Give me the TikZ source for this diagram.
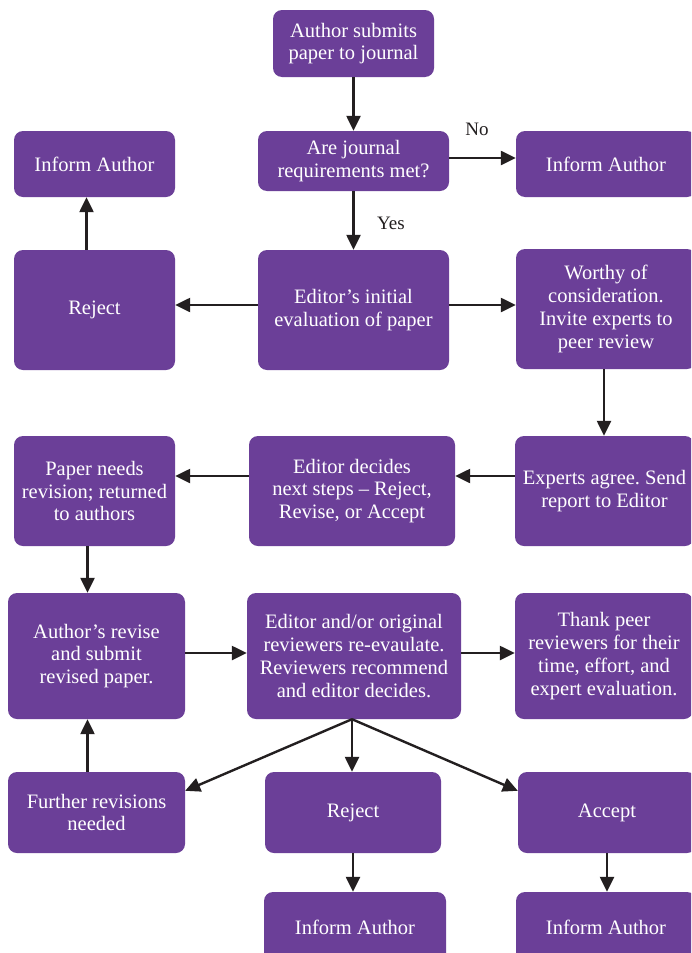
\documentclass[tikz,border=0pt]{standalone}
\usepackage{fontspec}
\setmainfont{Liberation Serif}
\usetikzlibrary{arrows.meta}
\definecolor{pp}{HTML}{6B3F98}
\definecolor{ink}{HTML}{231F20}
\frenchspacing
\begin{document}
\begin{tikzpicture}[x=1pt,y=-1pt,
  box/.style={fill=pp, rounded corners=9pt, text=white, align=center, inner sep=0pt,
    font=\fontsize{20.5}{22.8}\selectfont\frenchspacing},
  arr/.style={draw=ink, line width=2.4pt, -{Triangle[length=15pt,width=14pt]}},
  lbl/.style={text=ink, font=\fontsize{19}{22}\selectfont}]
\useasboundingbox (0,0) rectangle (691,953);
\clip (0,0) rectangle (691,953);
\fill[white] (0,0) rectangle (691,953);
% nodes
\node[box, minimum width=161pt, minimum height=67pt] (sub) at (353.5,43.5) {Author submits\\paper to journal};
\node[box, minimum width=191pt, minimum height=60pt] (req) at (353.5,161) {Are journal\\requirements met?};
\node[box, minimum width=161pt, minimum height=66pt] (infL) at (94.5,164) {Inform Author};
\node[box, minimum width=180pt, minimum height=66pt] (infR) at (606,164) {Inform Author};
\node[box, minimum width=161pt, minimum height=120pt] (rej1) at (94.5,310) {Reject};
\node[box, minimum width=191pt, minimum height=120pt] (ed1) at (353.5,310) {Editor's initial\\evaluation of paper};
\node[box, minimum width=180pt, minimum height=120pt] (wor) at (606,309) {Worthy of\\consideration.\\Invite experts to\\peer review};
\node[box, minimum width=161pt, minimum height=110pt] (pap) at (94.5,491) {Paper needs\\revision; returned\\to authors};
\node[box, minimum width=206pt, minimum height=110pt] (ed2) at (352,491) {Editor decides\\next steps – Reject,\\Revise, or Accept};
\node[box, minimum width=179pt, minimum height=110pt] (exp) at (604.5,491) {Experts agree. Send\\report to Editor};
\node[box, minimum width=177pt, minimum height=126pt] (aut) at (96.5,656) {Author's revise\\and submit\\revised paper.};
\node[box, minimum width=214pt, minimum height=126pt] (ed3) at (354,656) {Editor and/or original\\reviewers re-evaulate.\\Reviewers recommend\\and editor decides.};
\node[box, minimum width=178pt, minimum height=126pt] (thk) at (604,656) {Thank peer\\reviewers for their\\time, effort, and\\expert evaluation.};
\node[box, minimum width=177pt, minimum height=81pt] (fur) at (96.5,812.5) {Further revisions\\needed};
\node[box, minimum width=176pt, minimum height=81pt] (rej2) at (353,812.5) {Reject};
\node[box, minimum width=178pt, minimum height=81pt] (acc) at (607,812.5) {Accept};
\node[box, minimum width=182pt, minimum height=70pt] (infB) at (355,927) {Inform Author};
\node[box, minimum width=180pt, minimum height=70pt] (infBR) at (606,927) {Inform Author};
% labels
\node[lbl] (no) at (477,129) {No};
\node[lbl] (yes) at (391,223) {Yes};
% arrows
\draw[arr] (sub.south) -- (req.north);
\draw[arr] ([yshift=3pt]req.east) -- ([yshift=3pt]req.east -| infR.west);
\draw[arr] (req.south) -- (ed1.north);
\draw[arr] ([yshift=5pt]ed1.west) -- ([yshift=5pt]ed1.west -| rej1.east);
\draw[arr] ([yshift=5pt]ed1.east) -- ([yshift=5pt]ed1.east -| wor.west);
\draw[arr] ([xshift=-8pt]rej1.north) -- ([xshift=-8pt]infL.south);
\draw[arr] ([xshift=-2pt]wor.south) -- ([xshift=-2pt]wor.south |- exp.north);
\draw[arr] ([yshift=15pt]exp.west) -- ([yshift=15pt]exp.west -| ed2.east);
\draw[arr] ([yshift=15pt]ed2.west) -- ([yshift=15pt]ed2.west -| pap.east);
\draw[arr] ([xshift=-7pt]pap.south) -- ([xshift=-7pt]pap.south |- aut.north);
\draw[arr] ([yshift=3pt]aut.east) -- ([yshift=3pt]aut.east -| ed3.west);
\draw[arr] ([yshift=3pt]ed3.east) -- ([yshift=3pt]ed3.east -| thk.west);
\draw[arr] ([xshift=-2pt]ed3.south) -- ([yshift=-19pt]fur.north east);
\draw[arr] ([xshift=-2pt]ed3.south) -- ([xshift=-1pt]rej2.north);
\draw[arr] ([xshift=-2pt]ed3.south) -- ([yshift=-19pt]acc.north west);
\draw[arr] ([xshift=-9pt]fur.north) -- ([xshift=-9pt]fur.north |- aut.south);
\draw[arr] (rej2.south) -- (rej2.south |- infB.north);
\draw[arr] (acc.south) -- (acc.south |- infBR.north);
\end{tikzpicture}
\end{document}
